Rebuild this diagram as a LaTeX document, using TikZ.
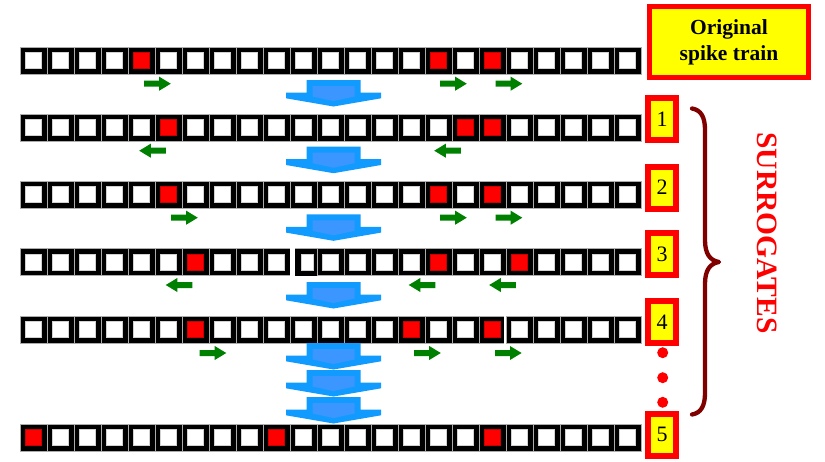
\documentclass[tikz,border=0pt]{standalone}
\usepackage{fontspec}
\setmainfont{Liberation Serif}
\definecolor{spikered}{RGB}{255,0,0}
\definecolor{boxyellow}{RGB}{255,255,0}
\definecolor{arrgreen}{RGB}{0,128,0}
\definecolor{blueout}{RGB}{18,155,255}
\definecolor{bluein}{RGB}{60,150,255}
\definecolor{bracered}{RGB}{128,0,0}
\newcommand\spikerow[2]{%
  \foreach \i in {0,...,22}{
    \fill[black] (20+27*\i,#1) rectangle ++(27,27);
    \draw[gray!65, line width=0.5pt] (20+27*\i,#1) rectangle ++(27,27);
    \fill[white,draw=gray!35,line width=0.4pt] (25.5+27*\i,#1+5.5) rectangle ++(16,16);
  }
  \foreach \i in {#2}{\fill[spikered,draw=red!80!black,line width=0.3pt] (25.5+27*\i,#1+5.5) rectangle ++(16,16);}
}
\newcommand\grarrow[3]{%
  \fill[arrgreen,shift={(#1,#2)},xscale=#3] (-13.3,-3) -- (1.7,-3) -- (1.7,-7) -- (13.3,0) -- (1.7,7) -- (1.7,3) -- (-13.3,3) -- cycle;}
\newcommand\bluearrow[1]{%
  \fill[blueout,shift={(333.5,#1)}] (-27,0) -- (27,0) -- (27,12.5) -- (47.5,12.5) -- (47.5,18.3) -- (0,26.5) -- (-47.5,18.3) -- (-47.5,12.5) -- (-27,12.5) -- cycle;
  \fill[bluein,shift={(333.5,#1)}] (-21,6) -- (21,6) -- (21,16.5) -- (0,21) -- (-21,16.5) -- cycle;}
\begin{document}
\begin{tikzpicture}[x=1pt,y=-1pt,
  numbox/.style={draw=spikered, line width=6pt, fill=boxyellow, inner sep=0pt,
    minimum width=28pt, minimum height=42pt, font=\fontsize{22}{24}\selectfont},
  reddot/.style={circle, fill=spikered, inner sep=0pt, minimum size=11pt}]
\useasboundingbox (0,0) rectangle (825,461);
\fill[white] (0,0) rectangle (825,461);

% spike rows
\spikerow{47}{4,15,17}
\spikerow{114}{5,16,17}
\spikerow{181}{5,15,17}
\spikerow{248.5}{6,15,18}
\spikerow{316}{6,14,17}
\spikerow{424}{0,9,17}

% gaps
\fill[white] (289.5,247) rectangle (295,277);
\fill[black] (295,248.5) rectangle (317,275.5);
\fill[white,draw=gray!35,line width=0.4pt] (300.7,254) rectangle (312.7,270);
\fill[white] (504,315) rectangle (506,344);

% green shift arrows
\grarrow{157.5}{83.7}{1}
\grarrow{453.5}{83.7}{1}
\grarrow{509}{83.7}{1}
\grarrow{152.5}{150.7}{-1}
\grarrow{447.5}{150.7}{-1}
\grarrow{184.5}{217.7}{1}
\grarrow{453.5}{217.7}{1}
\grarrow{509}{217.7}{1}
\grarrow{179}{285}{-1}
\grarrow{422}{285}{-1}
\grarrow{502.5}{285}{-1}
\grarrow{213}{353}{1}
\grarrow{427.5}{353}{1}
\grarrow{508.3}{353}{1}

% blue arrows
\bluearrow{80}
\bluearrow{146.7}
\bluearrow{214.3}
\bluearrow{282}
\bluearrow{343}
\bluearrow{370}
\bluearrow{397}

% labels
\node[draw=spikered, line width=5pt, fill=boxyellow, inner sep=0pt,
  minimum width=159pt, minimum height=71pt, align=center,
  font=\fontsize{21.5}{26}\selectfont\bfseries] (orig) at (729,42) {Original\\spike train};
\node[numbox] (n1) at (662,119) {1};
\node[numbox] (n2) at (662,187.5) {2};
\node[numbox] (n3) at (662,254) {3};
\node[numbox] (n4) at (662,322) {4};
\node[numbox] (n5) at (662,434.5) {5};

\node[reddot] (d1) at (662.7,352.7) {};
\node[reddot] (d2) at (662.7,377.7) {};
\node[reddot] (d3) at (662.7,402.3) {};

% brace
\draw[bracered, line width=4.3pt, line cap=round, line join=round]
  (692,108.5) .. controls (701,110) and (705,117) .. (705,130)
  -- (705,240) .. controls (705,254) and (710,260.5) .. (719,262)
  .. controls (710,263.5) and (705,270) .. (705,284)
  -- (705,393) .. controls (705,406) and (701,413) .. (692,414.5);

\node[rotate=-90, text=spikered, inner sep=0pt, font=\fontsize{29.5}{32}\selectfont\bfseries] (surr) at (767,233) {SURROGATES};
\end{tikzpicture}
\end{document}
